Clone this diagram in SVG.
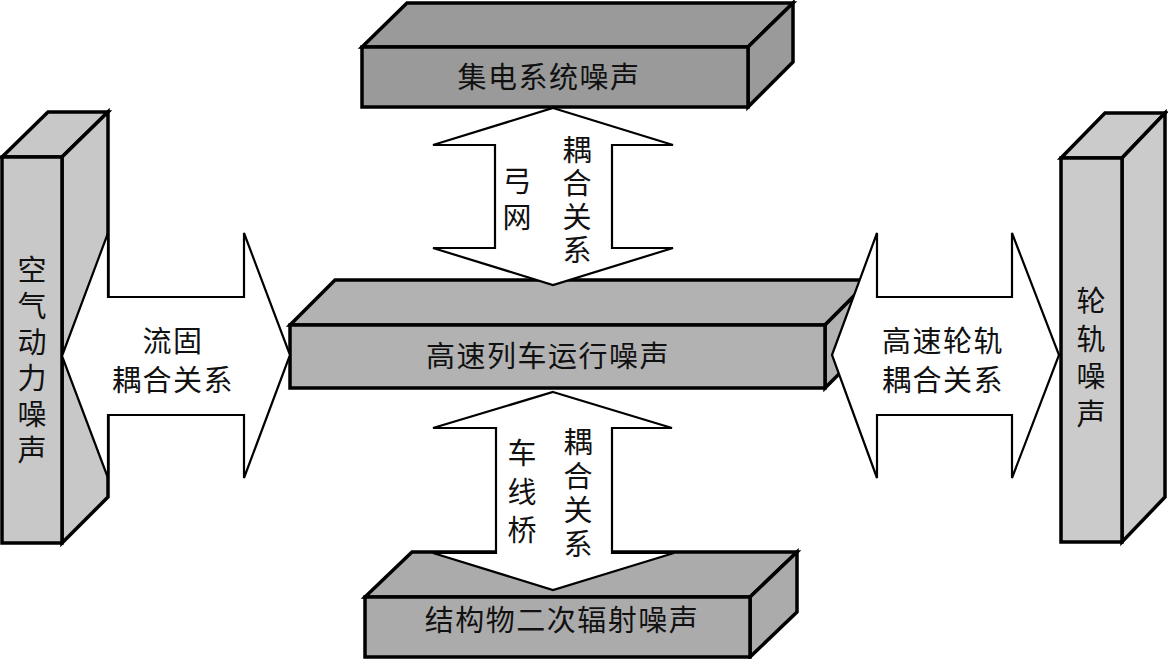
<svg xmlns="http://www.w3.org/2000/svg" width="1168" height="659" viewBox="0 0 1168 659">
<style>
.box{stroke:#000;stroke-width:3.5;stroke-linejoin:miter}
.arrow{fill:#fff;stroke:#000;stroke-width:2.2;stroke-linejoin:miter}
text{font-family:"Noto Sans CJK SC","Noto Sans CJK JP",sans-serif;font-size:29px;fill:#111}
.h{text-anchor:middle;letter-spacing:1.5px}
.v{writing-mode:vertical-rl;text-orientation:upright}
</style>
<rect width="1168" height="659" fill="#fff"/>
<g id="node-left">
<polygon class="box" fill="#c8c8c8" points="2,157 48,112 108,112 62,157"/>
<polygon class="box" fill="#c8c8c8" points="62,157 108,112 108,497 62,543"/>
<rect class="box" fill="#c8c8c8" x="2" y="157" width="60" height="386"/>
<text class="v" x="32" y="255.5" style="letter-spacing:7px">空气动力噪声</text>
</g>
<g id="node-right">
<polygon class="box" fill="#cbcbcb" points="1061,158 1105,113 1165,113 1122,158"/>
<polygon class="box" fill="#cbcbcb" points="1122,158 1165,113 1165,497 1122,542"/>
<rect class="box" fill="#cbcbcb" x="1061" y="158" width="61" height="384"/>
<text class="v" x="1091" y="286.5" style="letter-spacing:8.7px">轮轨噪声</text>
</g>
<g id="node-top">
<polygon class="box" fill="#9a9a9a" points="362,47 407,3 793,3 748,47"/>
<polygon class="box" fill="#9a9a9a" points="748,47 793,3 793,62 748,107"/>
<rect class="box" fill="#9a9a9a" x="362" y="47" width="386" height="60"/>
<text class="h" x="549" y="88">集电系统噪声</text>
</g>
<g id="node-bottom">
<polygon class="box" fill="#ababab" points="365,597 412,552 797,552 750,597"/>
<polygon class="box" fill="#ababab" points="750,597 797,552 797,612 750,657"/>
<rect class="box" fill="#ababab" x="365" y="597" width="385" height="60"/>
<text class="h" x="562" y="631">结构物二次辐射噪声</text>
</g>
<g id="node-center">
<polygon class="box" fill="#b2b2b2" points="290,325 335,280 870,280 825,325"/>
<polygon class="box" fill="#b2b2b2" points="825,325 870,280 870,343 825,388"/>
<rect class="box" fill="#b2b2b2" x="290" y="325" width="535" height="63"/>
<text class="h" x="548" y="367">高速列车运行噪声</text>
</g>
<g id="connectors">
<g id="arrow-top">
<polygon class="arrow" points="553,108 673,145 612,145 612,248 673,248 553,285 433,248 495,248 495,145 433,145"/>
<text class="v" x="517" y="166.5" style="letter-spacing:7px">弓网</text>
<text class="v" x="577" y="135.5" style="letter-spacing:4.3px">耦合关系</text>
</g>
<g id="arrow-bottom">
<polygon class="arrow" points="553,392 672,428 612,428 612,553 674,553 553,590 433,553 496,553 496,428 433,428"/>
<text class="v" x="522" y="438.5" style="letter-spacing:9.5px">车线桥</text>
<text class="v" x="578" y="427.5" style="letter-spacing:5px">耦合关系</text>
</g>
<g id="arrow-left">
<polygon class="arrow" points="62,356 108,233 108,297 244,297 244,233 290,355 244,478 244,415 108,415 108,478"/>
<text class="h" x="173" y="352">流固</text>
<text class="h" x="173" y="391">耦合关系</text>
</g>
<g id="arrow-right">
<polygon class="arrow" points="832,355 877,233 877,297 1012,297 1012,233 1059,355 1012,478 1012,415 877,415 877,478"/>
<text class="h" x="943" y="352">高速轮轨</text>
<text class="h" x="943" y="391">耦合关系</text>
</g>
</g>
</svg>
